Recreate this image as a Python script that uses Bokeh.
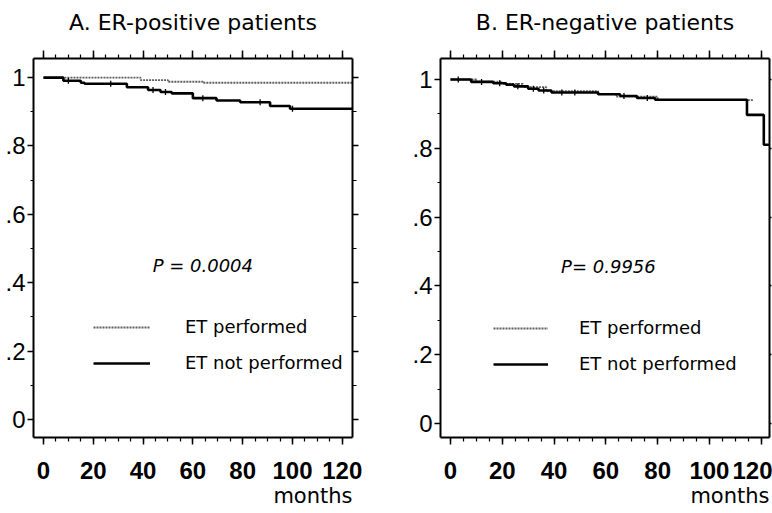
import numpy as np
from bokeh.plotting import figure
from bokeh.layouts import row
from bokeh.models import (LinearAxis, Range1d, FixedTicker, Title, Label,
                          Legend, LegendItem)
from bokeh.embed import file_html
from bokeh.resources import INLINE

# ---------------- data ----------------
x_ticks = [0, 20, 40, 60, 80, 100, 120]
x_minor = list(range(0, 125, 5))
y_ticks = [0, 0.2, 0.4, 0.6, 0.8, 1.0]
y_tick_labels = ["0", ".2", ".4", ".6", ".8", "1"]
y_minor = [0, 0.1, 0.2, 0.3, 0.4, 0.5, 0.6, 0.7, 0.8, 0.9, 1.0]

# Panel A: ER-positive
A_perf_t = [0, 39, 50, 64, 124]
A_perf_s = [1.0, 0.993, 0.988, 0.985, 0.985]
A_not_t = [0, 8, 15, 16.5, 33.5, 42, 47, 51.5, 60, 69.5, 79, 91, 99, 124]
A_not_s = [1.0, 0.991, 0.985, 0.982, 0.972, 0.964, 0.958, 0.954, 0.940,
           0.933, 0.928, 0.917, 0.909, 0.909]
A_not_cens = [10, 27, 44, 49, 64, 87, 100]
A_p = "P = 0.0004"

# Panel B: ER-negative
B_perf_t = [0, 10, 20, 28, 37, 57, 64, 80, 117]
B_perf_s = [1.0, 0.994, 0.987, 0.978, 0.966, 0.958, 0.950, 0.940, 0.940]
B_not_t = [0, 8, 16.5, 21.5, 24.5, 30, 34, 39, 57, 65.5, 72, 79, 114.5, 121, 123]
B_not_s = [1.0, 0.993, 0.989, 0.985, 0.980, 0.973, 0.968, 0.962, 0.957,
           0.952, 0.946, 0.941, 0.897, 0.810, 0.810]
B_not_cens = [3, 12, 19, 26, 32, 36, 43, 48, 67, 76]
B_p = "P= 0.9956"

series_labels = ["ET performed", "ET not performed"]
titles = ["A. ER-positive patients", "B. ER-negative patients"]
x_axis_label = "months"

TICK_FONT = "Liberation Sans"
TEXT_FONT = "DejaVu Sans"


def step_at(t, s, c):
    t = np.asarray(t, float)
    s = np.asarray(s, float)
    idx = np.searchsorted(t, np.asarray(c, float), side="right") - 1
    return s[idx]


def style_axis(ax, labels=True, tick_out=7, minor_out=4):
    ax.axis_line_color = "black"
    ax.axis_line_width = 2
    ax.major_tick_line_color = "black"
    ax.major_tick_line_width = 1.5
    ax.minor_tick_line_color = "black"
    ax.minor_tick_line_width = 1.2
    ax.major_tick_out = tick_out
    ax.major_tick_in = 0
    ax.minor_tick_out = minor_out
    ax.minor_tick_in = 0
    ax.major_label_text_color = "black"
    if not labels:
        ax.major_label_text_color = None
        ax.major_label_text_font_size = "1px"
        ax.major_label_standoff = 0


def make_panel(title, xr, yr, perf_t, perf_s, not_t, not_s, cens, ptext, ppos,
               leg_loc, glyph_w, standoff, borders, right_tick):
    bl, br, bt, bb = borders
    p = figure(width=386, height=513, x_range=Range1d(*xr), y_range=Range1d(*yr),
               output_backend="svg", toolbar_location=None,
               min_border_left=bl, min_border_right=br,
               min_border_top=bt, min_border_bottom=bb)
    p.grid.visible = False
    p.outline_line_color = None
    p.background_fill_color = "white"
    p.border_fill_color = "white"

    xt = FixedTicker(ticks=x_ticks, minor_ticks=x_minor)
    yt = FixedTicker(ticks=y_ticks, minor_ticks=y_minor)

    # bottom axis
    xa = p.xaxis[0]
    xa.ticker = xt
    style_axis(xa, tick_out=7)
    xa.major_label_text_font = TICK_FONT
    xa.major_label_text_font_size = "24px"
    xa.major_label_text_font_style = "bold"
    xa.major_label_standoff = 17

    # left axis
    ya = p.yaxis[0]
    ya.ticker = yt
    style_axis(ya, tick_out=6, minor_out=3)
    ya.major_label_text_font = TICK_FONT
    ya.major_label_text_font_size = "24px"
    ya.major_label_standoff = 2
    ya.major_label_overrides = {v: l for v, l in zip(y_ticks, y_tick_labels)}

    # top axis (carries the panel title as its axis label)
    ta = LinearAxis(ticker=FixedTicker(ticks=x_ticks, minor_ticks=x_minor))
    style_axis(ta, labels=False, tick_out=8)
    ta.axis_label = title
    ta.axis_label_text_font = TEXT_FONT
    ta.axis_label_text_font_size = "22px"
    ta.axis_label_text_font_style = "normal"
    ta.axis_label_text_color = "black"
    ta.axis_label_standoff = 16
    p.add_layout(ta, "above")

    # right axis
    ra = LinearAxis(ticker=FixedTicker(ticks=y_ticks, minor_ticks=y_minor))
    style_axis(ra, labels=False, tick_out=right_tick, minor_out=max(right_tick - 2, 0))
    p.add_layout(ra, "right")

    p.add_layout(Title(text=x_axis_label, align="right", text_font=TEXT_FONT,
                       text_font_size="21px", text_font_style="normal",
                       text_color="black", standoff=0), "below")

    r_perf = p.step(perf_t, perf_s, mode="after", line_color="#5e5e5e",
                    line_width=1.8, line_dash="2 1")
    r_not = p.step(not_t, not_s, mode="after", line_color="black", line_width=2.6)
    p.scatter(cens, step_at(not_t, not_s, cens), marker="dash", angle=np.pi / 2,
              size=6, line_color="black", line_width=1.3)

    p.add_layout(Label(x=ppos[0], y=ppos[1], text=ptext, text_font=TEXT_FONT,
                       text_font_size="18px", text_font_style="italic",
                       text_align="center", text_baseline="middle",
                       text_color="black"))

    leg = Legend(items=[LegendItem(label=series_labels[0], renderers=[r_perf]),
                        LegendItem(label=series_labels[1], renderers=[r_not])],
                 location=leg_loc, orientation="vertical",
                 glyph_width=glyph_w, glyph_height=20, label_height=20,
                 spacing=15, label_standoff=standoff, padding=0, margin=0,
                 border_line_alpha=0, background_fill_alpha=0,
                 label_text_font=TEXT_FONT, label_text_font_size="18px",
                 label_text_color="black")
    p.add_layout(leg)
    return p


pA = make_panel(titles[0], (-4.0, 124.1), (-0.053, 1.056),
                A_perf_t, A_perf_s, A_not_t, A_not_s, A_not_cens, A_p, (64, 0.45),
                (60, 64), 57, 35, (33, 34, 58, 76), 6)
pB = make_panel(titles[1], (-3.86, 123.2), (-0.041, 1.061),
                B_perf_t, B_perf_s, B_not_t, B_not_s, B_not_cens, B_p, (61, 0.455),
                (53, 63), 55, 31, (54, 3, 58, 76), 2)

layout = row(pA, pB)
open("out.html", "w").write(file_html(layout, INLINE))
